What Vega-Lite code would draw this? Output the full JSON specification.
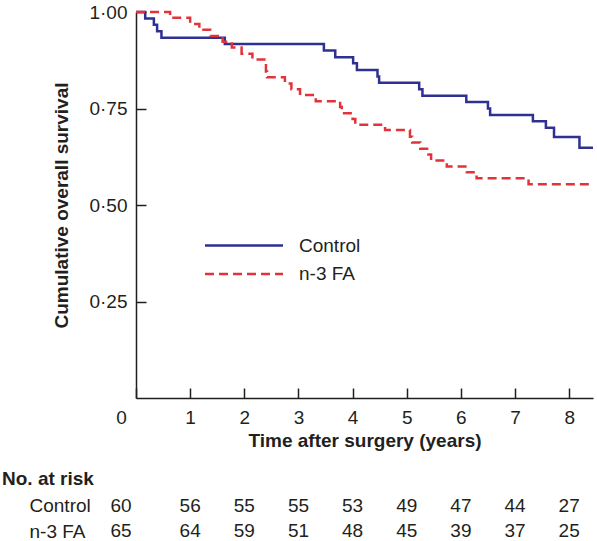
{
  "$schema": "https://vega.github.io/schema/vega-lite/v6.json",
  "padding": {"left": 2, "top": 3, "right": 0, "bottom": 0},
  "spacing": 19,
  "config": {"font": "Liberation Sans", "view": {"stroke": null}},
  "datasets": {
    "surv": [
      {"group": "Control", "time": 0, "surv": 1.0},
      {"group": "Control", "time": 0.17, "surv": 0.983},
      {"group": "Control", "time": 0.33, "surv": 0.967},
      {"group": "Control", "time": 0.39, "surv": 0.95},
      {"group": "Control", "time": 0.47, "surv": 0.933},
      {"group": "Control", "time": 1.64, "surv": 0.917},
      {"group": "Control", "time": 3.47, "surv": 0.9},
      {"group": "Control", "time": 3.68, "surv": 0.883},
      {"group": "Control", "time": 4.01, "surv": 0.867},
      {"group": "Control", "time": 4.08, "surv": 0.85},
      {"group": "Control", "time": 4.46, "surv": 0.833},
      {"group": "Control", "time": 4.49, "surv": 0.817},
      {"group": "Control", "time": 5.23, "surv": 0.8},
      {"group": "Control", "time": 5.29, "surv": 0.783},
      {"group": "Control", "time": 6.1, "surv": 0.767},
      {"group": "Control", "time": 6.5, "surv": 0.75},
      {"group": "Control", "time": 6.54, "surv": 0.733},
      {"group": "Control", "time": 7.33, "surv": 0.717},
      {"group": "Control", "time": 7.57, "surv": 0.7},
      {"group": "Control", "time": 7.72, "surv": 0.676},
      {"group": "Control", "time": 8.19, "surv": 0.648},
      {"group": "Control", "time": 8.44, "surv": 0.648},
      {"group": "n-3 FA", "time": 0, "surv": 1.0},
      {"group": "n-3 FA", "time": 0.63, "surv": 0.985},
      {"group": "n-3 FA", "time": 1.0, "surv": 0.969},
      {"group": "n-3 FA", "time": 1.17, "surv": 0.954},
      {"group": "n-3 FA", "time": 1.37, "surv": 0.938},
      {"group": "n-3 FA", "time": 1.6, "surv": 0.923},
      {"group": "n-3 FA", "time": 1.77, "surv": 0.908},
      {"group": "n-3 FA", "time": 1.95, "surv": 0.892},
      {"group": "n-3 FA", "time": 2.15, "surv": 0.877},
      {"group": "n-3 FA", "time": 2.37, "surv": 0.862},
      {"group": "n-3 FA", "time": 2.4, "surv": 0.846},
      {"group": "n-3 FA", "time": 2.42, "surv": 0.831},
      {"group": "n-3 FA", "time": 2.75, "surv": 0.815},
      {"group": "n-3 FA", "time": 2.87, "surv": 0.8},
      {"group": "n-3 FA", "time": 3.03, "surv": 0.785},
      {"group": "n-3 FA", "time": 3.32, "surv": 0.769},
      {"group": "n-3 FA", "time": 3.77, "surv": 0.754},
      {"group": "n-3 FA", "time": 3.8, "surv": 0.738},
      {"group": "n-3 FA", "time": 4.0, "surv": 0.723},
      {"group": "n-3 FA", "time": 4.05, "surv": 0.708},
      {"group": "n-3 FA", "time": 4.6, "surv": 0.694},
      {"group": "n-3 FA", "time": 5.06, "surv": 0.677},
      {"group": "n-3 FA", "time": 5.1, "surv": 0.662},
      {"group": "n-3 FA", "time": 5.25, "surv": 0.646},
      {"group": "n-3 FA", "time": 5.4, "surv": 0.631},
      {"group": "n-3 FA", "time": 5.45, "surv": 0.615},
      {"group": "n-3 FA", "time": 5.74, "surv": 0.6},
      {"group": "n-3 FA", "time": 6.11, "surv": 0.585},
      {"group": "n-3 FA", "time": 6.29, "surv": 0.569},
      {"group": "n-3 FA", "time": 7.25, "surv": 0.554},
      {"group": "n-3 FA", "time": 8.44, "surv": 0.554}
    ],
    "risk": [
      {"group": "Control", "year": 0, "n": 60},
      {"group": "Control", "year": 1, "n": 56},
      {"group": "Control", "year": 2, "n": 55},
      {"group": "Control", "year": 3, "n": 55},
      {"group": "Control", "year": 4, "n": 53},
      {"group": "Control", "year": 5, "n": 49},
      {"group": "Control", "year": 6, "n": 47},
      {"group": "Control", "year": 7, "n": 44},
      {"group": "Control", "year": 8, "n": 27},
      {"group": "n-3 FA", "year": 0, "n": 65},
      {"group": "n-3 FA", "year": 1, "n": 64},
      {"group": "n-3 FA", "year": 2, "n": 59},
      {"group": "n-3 FA", "year": 3, "n": 51},
      {"group": "n-3 FA", "year": 4, "n": 48},
      {"group": "n-3 FA", "year": 5, "n": 45},
      {"group": "n-3 FA", "year": 6, "n": 39},
      {"group": "n-3 FA", "year": 7, "n": 37},
      {"group": "n-3 FA", "year": 8, "n": 25}
    ]
  },
  "vconcat": [
    {
      "width": 457,
      "height": 386,
      "data": {"name": "surv"},
      "mark": {"type": "line", "interpolate": "step-after", "strokeWidth": 2.5},
      "encoding": {
        "x": {
          "field": "time", "type": "quantitative",
          "scale": {"domain": [0, 8.44], "nice": false, "zero": false},
          "axis": {
            "values": [0, 1, 2, 3, 4, 5, 6, 7, 8],
            "title": "Time after surgery (years)",
            "titleFontSize": 19, "titleFontWeight": "bold", "titleColor": "#231f20", "titlePadding": 4,
            "labelFontSize": 19, "labelColor": "#231f20", "labelPadding": 20,
            "labelOffset": {"condition": {"test": "datum.value === 0", "value": -15}, "value": 0},
            "labelFlush": false, "labelOverlap": false, "labelBound": false,
            "tickSize": -10, "tickColor": "#231f20", "tickWidth": 1.5,
            "domainColor": "#231f20", "domainWidth": 1.5, "grid": false
          }
        },
        "y": {
          "field": "surv", "type": "quantitative",
          "scale": {"domain": [0, 1], "nice": false},
          "axis": {
            "values": [0.25, 0.5, 0.75, 1],
            "title": "Cumulative overall survival",
            "titleFontSize": 19, "titleFontWeight": "bold", "titleColor": "#231f20", "titlePadding": 17,
            "labelExpr": "replace(format(datum.value, '.2f'), '.', '·')",
            "labelFontSize": 19, "labelColor": "#231f20", "labelPadding": 19,
            "labelOverlap": false, "labelBound": false, "labelFlush": false,
            "tickSize": -10, "tickColor": "#231f20", "tickWidth": 1.5,
            "domainColor": "#231f20", "domainWidth": 1.5, "grid": false
          }
        },
        "color": {
          "field": "group", "type": "nominal",
          "scale": {"domain": ["Control", "n-3 FA"], "range": ["#2e3192", "#e2333b"]},
          "legend": {
            "title": null, "orient": "none", "legendX": 98.5, "legendY": 224, "padding": 0,
            "symbolType": "M-6,0H6", "symbolSize": 169, "symbolStrokeWidth": 2.5,
            "labelFontSize": 19, "labelColor": "#231f20", "labelOffset": 45.5, "rowPadding": 8.5
          }
        },
        "strokeDash": {
          "field": "group", "type": "nominal",
          "scale": {"domain": ["Control", "n-3 FA"], "range": [[1, 0], [9, 5]]},
          "legend": {
            "title": null, "orient": "none", "legendX": 98.5, "legendY": 224, "padding": 0,
            "symbolType": "M-6,0H6", "symbolSize": 169, "symbolStrokeWidth": 2.5,
            "labelFontSize": 19, "labelColor": "#231f20", "labelOffset": 45.5, "rowPadding": 8.5
          }
        }
      }
    },
    {
      "width": 457,
      "height": 51,
      "data": {"name": "risk"},
      "title": {
        "text": "No. at risk", "anchor": "start", "frame": "group", "dx": -134,
        "fontSize": 19, "fontWeight": "bold", "color": "#231f20",
        "baseline": "alphabetic", "offset": -10.75
      },
      "encoding": {
        "x": {"field": "year", "type": "quantitative", "scale": {"domain": [0, 8.44], "nice": false, "zero": false}, "axis": null},
        "y": {
          "field": "group", "type": "nominal",
          "scale": {"domain": ["Control", "n-3 FA"]},
          "axis": {
            "title": null, "domain": false, "ticks": false,
            "labelAlign": "left", "labelPadding": 107,
            "labelFontSize": 19, "labelColor": "#231f20"
          }
        },
        "text": {"field": "n", "type": "quantitative"}
      },
      "layer": [
        {
          "transform": [{"filter": "datum.year > 0"}],
          "mark": {"type": "text", "fontSize": 19, "color": "#231f20", "baseline": "middle", "align": "center"}
        },
        {
          "transform": [{"filter": "datum.year === 0"}],
          "mark": {"type": "text", "fontSize": 19, "color": "#231f20", "baseline": "middle", "align": "center", "dx": -15}
        }
      ]
    }
  ]
}
